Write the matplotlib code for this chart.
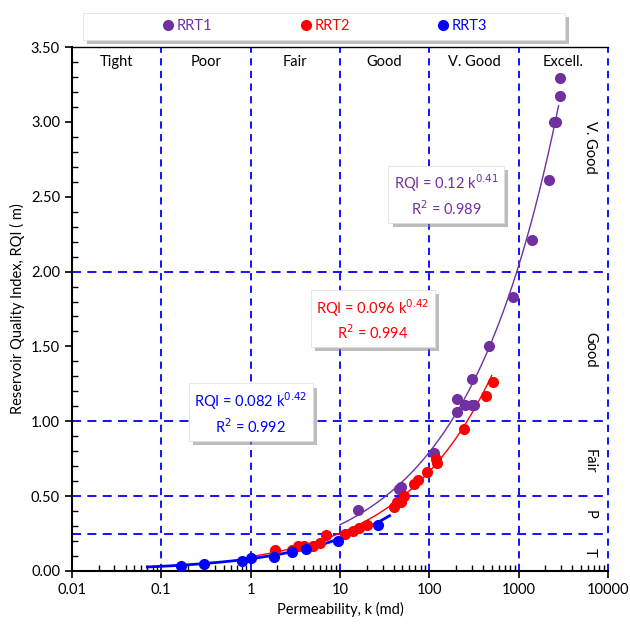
import numpy as np
import matplotlib.pyplot as plt
import matplotlib.patheffects as pe
from matplotlib.patches import FancyBboxPatch
from matplotlib.ticker import FixedLocator, MultipleLocator, FormatStrFormatter

plt.rcParams['font.family'] = ['Lato', 'DejaVu Sans']

# RRT1
k1 = [15.9, 46, 48, 113, 205, 205, 252, 307, 318, 299, 300, 468, 861, 1416, 2213, 2500, 2630, 2917, 2917]
rqi1 = [0.41, 0.55, 0.56, 0.79, 1.15, 1.06, 1.11, 1.11, 1.11, 1.11, 1.28, 1.50, 1.83, 2.21, 2.61, 3.00, 3.00, 3.17, 3.29]
# RRT2
k2 = [514, 433, 246, 121, 118, 93.8, 75.5, 68.1, 52.6, 48.0, 40.4, 43.9, 19.95, 16.4,
      14.1, 11.4, 6.99, 5.98, 4.96, 3.96, 3.42, 2.93, 1.88]
rqi2 = [1.265, 1.17, 0.95, 0.72, 0.75, 0.66, 0.61, 0.58, 0.50, 0.46, 0.43, 0.46, 0.31, 0.29,
        0.27, 0.25, 0.24, 0.19, 0.17, 0.17, 0.17, 0.14, 0.14]
# RRT3
k3 = [0.166, 0.301, 0.795, 1.00, 1.83, 2.88, 4.14, 9.6, 26.9]
rqi3 = [0.035, 0.047, 0.069, 0.087, 0.096, 0.13, 0.15, 0.20, 0.31]

# power-law fits  RQI = a k^b
fits = [(0.12, 0.41, 0.989, 10, 2800), (0.096, 0.42, 0.994, 1, 500), (0.082, 0.42, 0.992, 0.07, 36)]
colors = ['#7030A0', '#FF0000', '#0000FF']
names = ['RRT1', 'RRT2', 'RRT3']

perm_bounds = [0.1, 1, 10, 100, 1000, 10000]
perm_classes = ['Tight', 'Poor', 'Fair', 'Good', 'V. Good', 'Excell.']
rqi_bounds = [0.25, 0.5, 1.0, 2.0]
rqi_classes = ['T', 'P', 'Fair', 'Good', 'V. Good']
rqi_class_y = [0.125, 0.375, 0.73, 1.48, 2.83]

fig = plt.figure(figsize=(6.3, 6.25), dpi=100)
ax = fig.add_axes([0.114, 0.0864, 0.851, 0.8384])

# class boundaries
for x in perm_bounds:
    ax.axvline(x, color='#0000FF', ls=(0, (4, 3)), lw=1.3, zorder=1, clip_on=False)
for y in rqi_bounds:
    ax.axhline(y, color='#0000FF', ls=(0, (5, 3.5)), lw=1.3, zorder=1)

# fitted curves
lws = [1.0, 1.0, 2.0]
for (a, b, r2, kmin, kmax), c, lw in zip(fits, colors, lws):
    kk = np.logspace(np.log10(kmin), np.log10(kmax), 200)
    ax.plot(kk, a * kk ** b, color=c, lw=lw, zorder=2)

# data points
for kx, ry, c, n in zip([k1, k2, k3], [rqi1, rqi2, rqi3], colors, names):
    ax.plot(kx, ry, 'o', color=c, ms=7, ls='none', label=n, zorder=3)

# equation boxes with drop shadow
eq_pos = [(154, 2.51), (23.5, 1.68), (1.01, 1.055)]
for (a, b, r2, kmin, kmax), c, (ex, ey) in zip(fits, colors, eq_pos):
    txt = 'RQI = %s k$^{%s}$\nR$^2$ = %s' % (a, b, r2)
    t = ax.text(ex, ey, txt, color=c, fontsize=10.5, ha='center', va='center', zorder=5,
                linespacing=1.3,
                bbox=dict(boxstyle='square,pad=0.35', fc='white', ec='#dddddd', lw=0.5))
    t.get_bbox_patch().set_path_effects([
        pe.SimplePatchShadow(offset=(3, -3), shadow_rgbFace='#888888', alpha=0.55),
        pe.Normal()])

# class labels
for i, lab in enumerate(perm_classes):
    xc = 10 ** (np.log10(perm_bounds[i]) - 0.5)
    ax.text(xc, 3.40, lab, ha='center', va='center', fontsize=10.5, color='black')
for lab, yc in zip(rqi_classes, rqi_class_y):
    ax.text(6300, yc, lab, ha='center', va='center', fontsize=10.5, rotation=270, color='black')

ax.set_xscale('log')
ax.set_xlim(0.01, 10000)
ax.set_ylim(0, 3.5)
ax.xaxis.set_major_locator(FixedLocator([0.01, 0.1, 1, 10, 100, 1000, 10000]))
ax.set_xticklabels(['0.01', '0.1', '1', '10', '100', '1000', '10000'])
ax.yaxis.set_major_locator(MultipleLocator(0.5))
ax.yaxis.set_minor_locator(MultipleLocator(0.1))
ax.yaxis.set_major_formatter(FormatStrFormatter('%.2f'))
ax.tick_params(which='major', direction='out', length=5, width=1.2, labelsize=10.5)
ax.tick_params(which='minor', direction='in', length=4, width=1.0)
ax.spines['left'].set_linewidth(1.5)
ax.spines['bottom'].set_linewidth(1.5)
ax.spines['top'].set_linewidth(1.0)
ax.spines['right'].set_visible(False)

ax.set_xlabel('Permeability, k (md)', fontsize=10.5)
ax.set_ylabel('Reservoir Quality Index, RQI ( m)', fontsize=10.5)

# legend box with drop shadow
box = FancyBboxPatch((83 / 630, 1 - 40 / 625), 482 / 630, 27 / 625, boxstyle='square,pad=0',
                     transform=fig.transFigure, fc='white', ec='#dddddd', lw=0.5)
box.set_path_effects([pe.SimplePatchShadow(offset=(3, -3), shadow_rgbFace='#888888', alpha=0.55),
                      pe.Normal()])
fig.patches.append(box)
fig.legend(loc='center', bbox_to_anchor=(324 / 630, 1 - 26.5 / 625), ncol=3, frameon=False,
           fontsize=10.5, handletextpad=0.1, columnspacing=5.9, labelcolor='markerfacecolor',
           handlelength=1.0)

fig.savefig('out.png', dpi=100)
